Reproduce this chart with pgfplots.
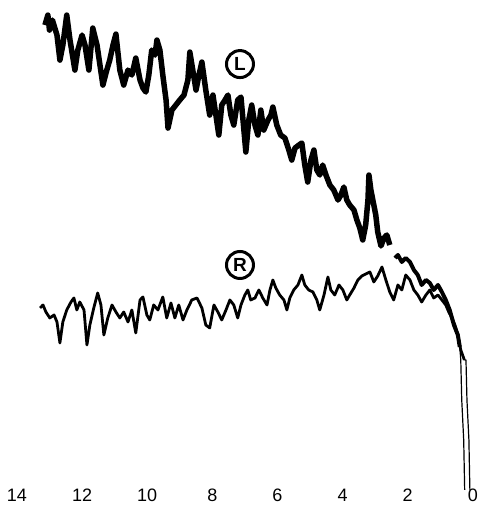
\documentclass[border=0pt]{standalone}
\usepackage{fontspec}
\setmainfont{Liberation Sans}
\usepackage{pgfplots}
\pgfplotsset{compat=1.18}
\begin{document}
\begin{tikzpicture}
\begin{axis}[
  at={(0,0)}, anchor=south west,
  width=476pt, height=505pt, scale only axis,
  x dir=reverse,
  xmin=-0.092, xmax=14.52, ymin=0, ymax=505,
  axis line style={draw=none},
  ytick=\empty,
  xtick={0,2,4,6,8,10,12,14},
  xticklabels={0,2,4,6,8,10,12,14},
  major tick length=0pt,
  xticklabel style={anchor=center, yshift=10pt, font=\fontsize{18}{20}\selectfont},
  clip=false,
]
% L trace
\addplot[black, line width=5.5pt, line join=round] coordinates {
(13.14,480)(13.05,490)(13.00,475)(12.91,485)(12.77,470)(12.68,445)(12.59,460)(12.47,490)
(12.37,465)(12.22,435)(12.13,455)(12.00,470)(11.91,460)(11.79,435)(11.67,477)(11.54,460)
(11.45,440)(11.36,420)(11.24,435)(11.15,445)(11.05,460)(10.96,471)(10.84,435)(10.72,420)
(10.59,435)(10.47,430)(10.35,447)(10.22,425)(10.13,417)(10.04,413)(9.95,430)(9.86,455)
(9.76,450)(9.70,465)(9.61,455)(9.52,430)(9.42,405)(9.36,377)(9.24,395)(9.12,400)
(9.00,405)(8.87,410)(8.75,425)(8.69,453)(8.60,435)(8.50,415)(8.41,430)(8.32,443)
(8.20,415)(8.08,390)(7.98,410)(7.89,390)(7.80,370)(7.71,400)(7.61,405)(7.52,410)
(7.43,390)(7.34,380)(7.22,405)(7.12,408)(7.03,375)(6.97,353)(6.88,385)(6.79,400)
(6.69,380)(6.60,370)(6.51,395)(6.42,375)(6.29,385)(6.20,390)(6.14,398)(6.02,380)
(5.90,370)(5.77,367)(5.65,355)(5.56,345)(5.46,357)(5.34,360)(5.25,362)(5.16,340)
(5.07,323)(4.97,345)(4.88,355)(4.79,335)(4.70,330)(4.61,340)(4.51,330)(4.39,320)
(4.27,315)(4.14,305)(4.05,310)(3.96,318)(3.87,305)(3.78,300)(3.65,295)(3.56,285)
(3.47,277)(3.38,265)(3.29,280)(3.22,305)(3.19,330)(3.13,315)(3.07,305)(2.98,290)
(2.92,273)(2.82,259)(2.73,267)(2.64,270)(2.55,260)
};
\addplot[black, line width=4pt, line join=round] coordinates {
(2.39,247)(2.30,250)(2.18,243)(2.06,247)(1.93,243)(1.81,235)(1.69,230)(1.57,220)
(1.44,225)(1.32,222)(1.20,215)(1.07,220)(0.95,213)(0.83,205)(0.71,195)(0.58,180)
(0.46,170)(0.40,158)
};
\addplot[black, line width=1.2pt, line join=round] coordinates {
(0.40,158)(0.37,145)(0.34,105)(0.28,65)(0.25,15)
};
% R trace
\addplot[black, line width=2.8pt, line join=round] coordinates {
(13.29,197)(13.20,200)(13.11,193)(12.99,187)(12.86,190)(12.77,183)(12.68,162)(12.59,183)
(12.47,195)(12.34,203)(12.25,207)(12.16,195)(12.07,203)(11.94,195)(11.85,160)(11.76,180)
(11.64,197)(11.52,212)(11.42,200)(11.33,170)(11.21,187)(11.08,200)(10.96,193)(10.84,187)
(10.72,193)(10.59,183)(10.47,195)(10.35,172)(10.22,205)(10.13,208)(10.01,190)(9.92,185)
(9.80,200)(9.67,195)(9.52,208)(9.40,187)(9.27,202)(9.15,187)(9.03,200)(8.90,185)
(8.78,195)(8.63,205)(8.47,207)(8.32,197)(8.20,180)(8.08,177)(7.95,200)(7.83,193)
(7.71,185)(7.58,195)(7.46,205)(7.34,200)(7.22,187)(7.12,200)(7.00,210)(6.91,215)
(6.82,205)(6.69,207)(6.57,215)(6.45,207)(6.32,200)(6.23,215)(6.14,225)(6.05,217)
(5.93,210)(5.80,205)(5.71,195)(5.62,207)(5.50,215)(5.37,220)(5.25,230)(5.16,220)
(5.04,215)(4.91,213)(4.79,205)(4.70,195)(4.57,210)(4.45,228)(4.36,215)(4.24,210)
(4.11,220)(3.99,215)(3.87,205)(3.78,210)(3.65,217)(3.53,225)(3.41,229)(3.29,231)
(3.16,233)(3.04,223)(2.92,229)(2.79,238)(2.67,225)(2.55,213)(2.43,205)(2.30,220)
(2.18,215)(2.06,230)(1.93,225)(1.81,215)(1.69,210)(1.57,203)(1.44,210)(1.32,215)
(1.20,207)(1.07,210)(0.95,205)(0.83,200)(0.74,193)(0.64,187)(0.55,180)(0.46,170)
(0.37,155)(0.26,145)
};
\addplot[black, line width=1.2pt, line join=round] coordinates {
(0.26,145)(0.21,145)(0.18,105)(0.12,65)(0.09,15)
};
\node[draw, circle, line width=3pt, minimum size=27pt, inner sep=0pt,
  font=\bfseries\fontsize{19}{19}\selectfont] at (axis cs:7.15,441) {L};
\node[draw, circle, line width=3pt, minimum size=27pt, inner sep=0pt,
  font=\bfseries\fontsize{19}{19}\selectfont] at (axis cs:7.15,240) {R};
\end{axis}
\end{tikzpicture}
\end{document}
